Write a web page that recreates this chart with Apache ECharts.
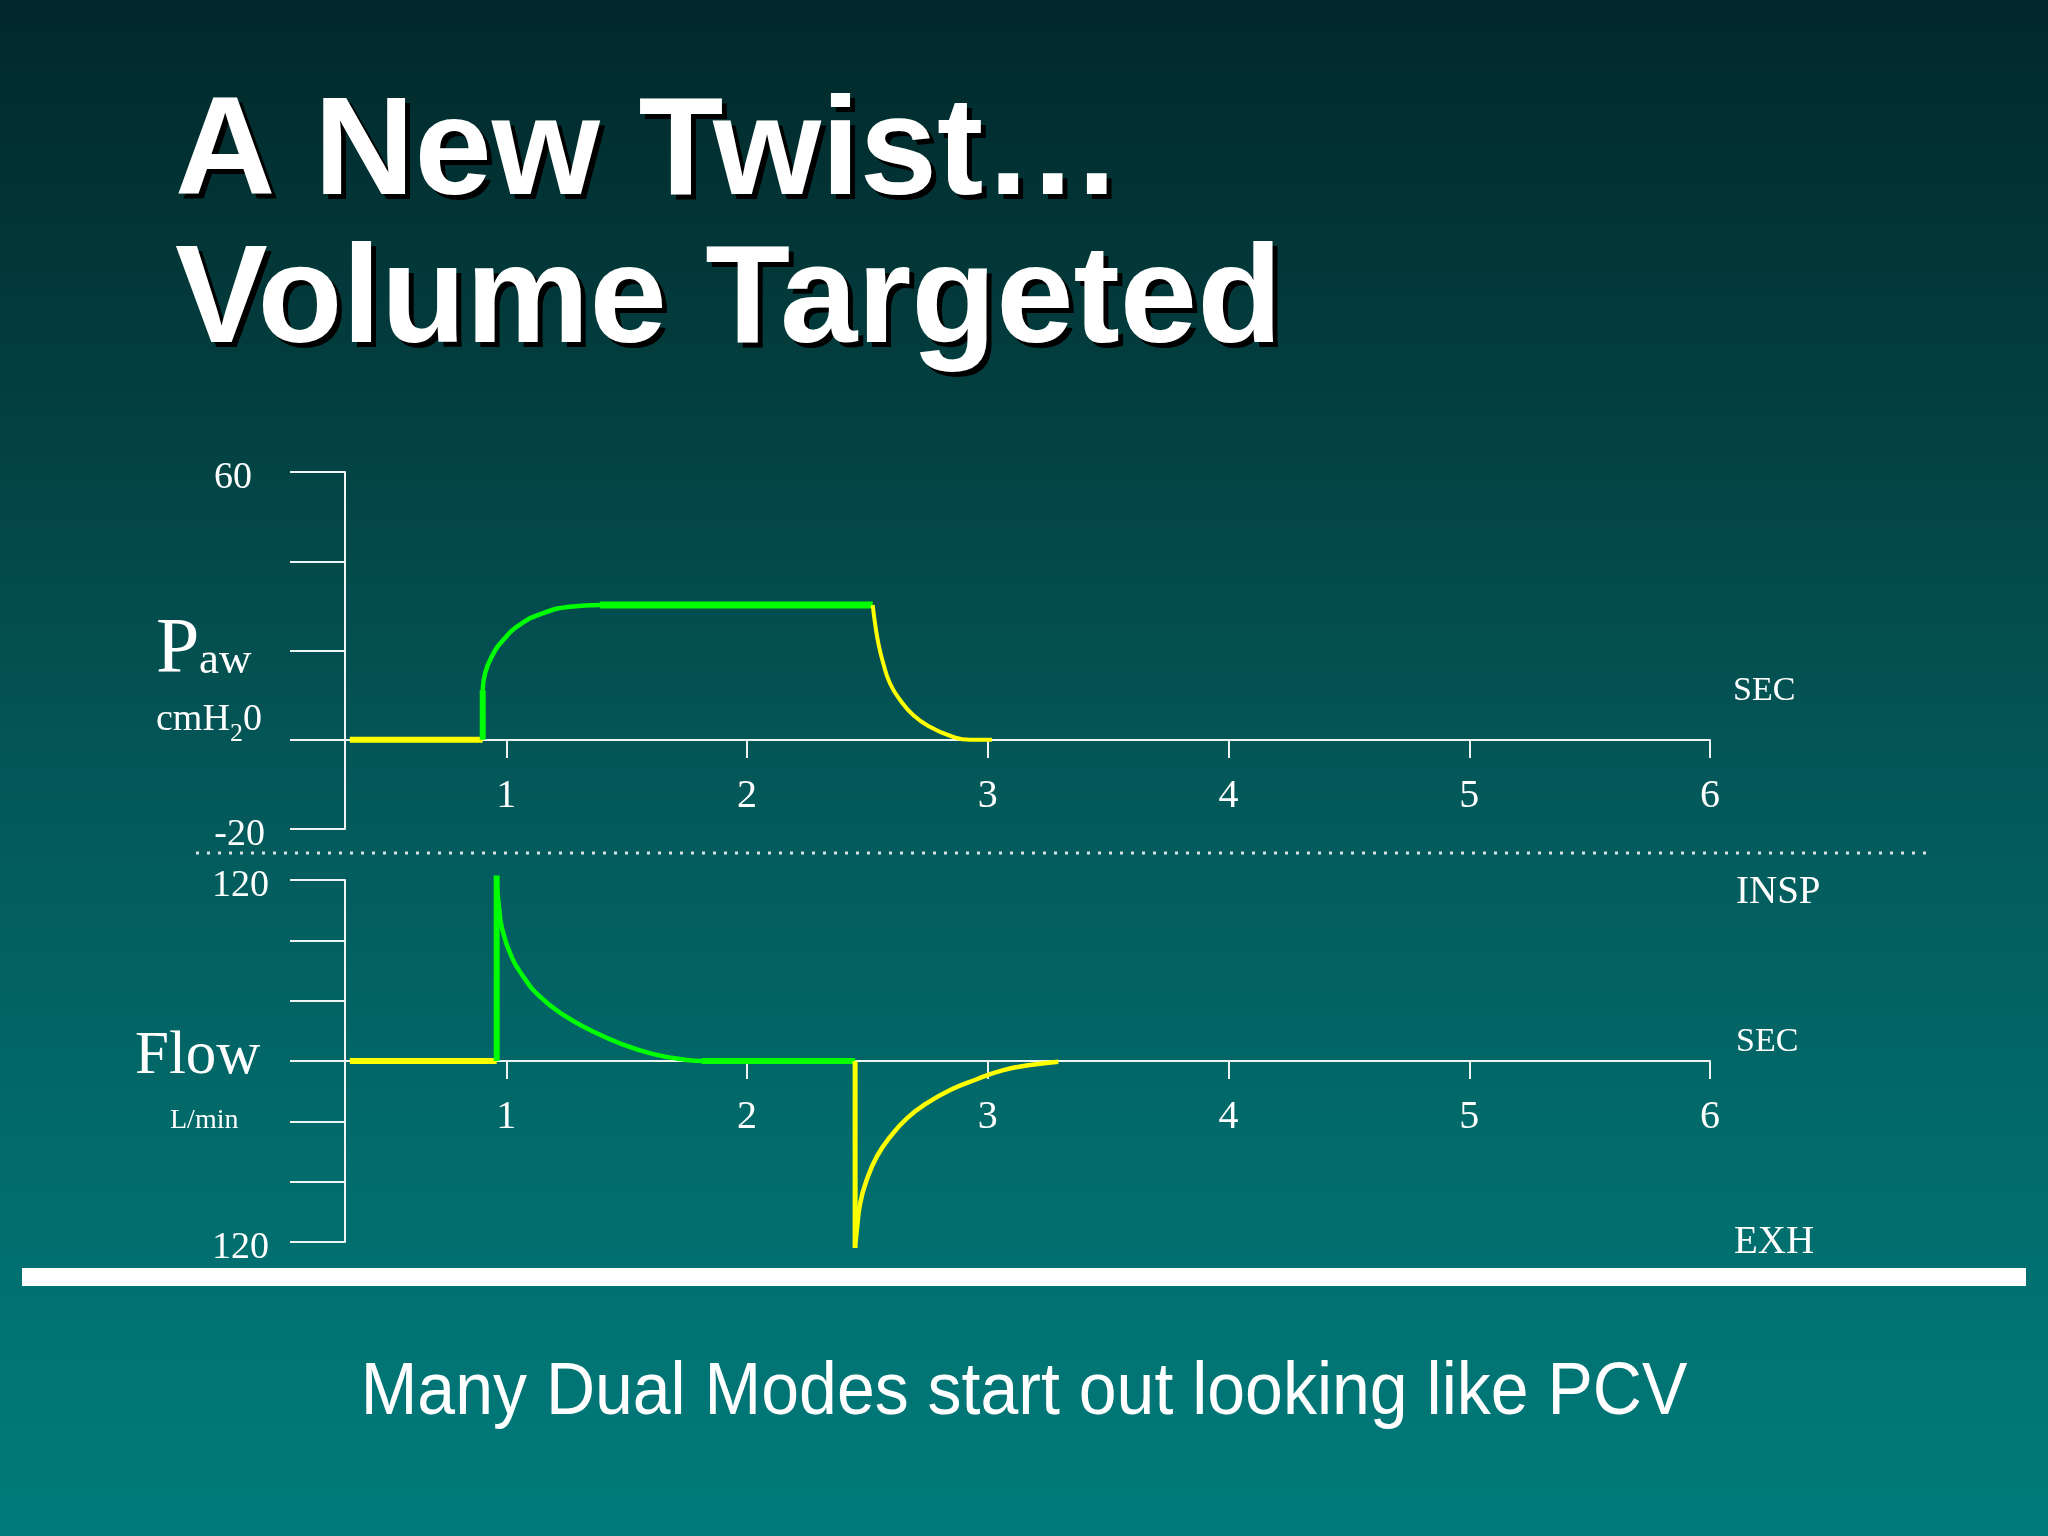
<!DOCTYPE html>
<html>
<head>
<meta charset="utf-8">
<script src="https://cdn.jsdelivr.net/npm/echarts@6/dist/echarts.min.js"></script>
<style>
html,body{margin:0;padding:0;background:#013a3b;}
#chart{width:2048px;height:1536px;}
</style>
</head>
<body>
<div id="chart"></div>
<script>
// ---- tick labels / categories ----
const timeTicks = [1, 2, 3, 4, 5, 6];
const pawLabelValues = [60, -20];
const flowLabelValues = [120, -120];

// ---- Paw (cmH2O) vs time (s) ----
const pawBaseT = [0.35, 0.902];
const pawBaseV = [0, 0];
const pawStepT = [0.902, 0.902];
const pawStepV = [0, 11.1];
const pawRiseT = [0.902, 0.912, 0.939, 0.988, 1.057, 1.154, 1.265, 1.389];
const pawRiseV = [11.1, 14.9, 18.6, 22.4, 25.8, 28.4, 29.8, 30.2];
const pawHoldT = [1.389, 2.522];
const pawHoldV = [30.2, 30.2];
const pawFallT = [2.522, 2.532, 2.546, 2.566, 2.594, 2.636, 2.691, 2.760, 2.843, 2.926, 3.017];
const pawFallV = [30.2, 26.0, 21.5, 17.1, 12.6, 8.9, 5.5, 2.9, 0.9, 0, 0];

// ---- Flow (L/min) vs time (s) ----
const flowBaseT = [0.35, 0.960];
const flowBaseV = [0, 0];
const flowSpikeT = [0.960, 0.960];
const flowSpikeV = [0, 123];
const flowDecayT = [0.960, 0.971, 0.981, 1.016, 1.071, 1.140, 1.237, 1.348, 1.472, 1.611, 1.750, 1.819];
const flowDecayV = [116.7, 100.1, 89.0, 71.4, 55.9, 42.6, 30.5, 20.6, 11.7, 4.6, 0.7, 0];
const flowHoldT = [1.812, 2.449];
const flowHoldV = [0, 0];
const flowDropT = [2.449, 2.449];
const flowDropV = [0, -124];
const flowRecoverT = [2.451, 2.456, 2.470, 2.497, 2.539, 2.595, 2.664, 2.747, 2.844, 2.954, 3.065, 3.176, 3.293];
const flowRecoverV = [-120, -112, -94.3, -78.9, -63.4, -50.2, -38.0, -28.0, -19.2, -12.1, -6.0, -2.7, -0.5];

const zip = (t, v) => t.map((x, i) => [x, v[i]]);

const GREEN = '#00ff00';
const YELLOW = '#ffff00';
const AXIS = '#eef3f3';
const SERIF = '"Liberation Serif", "Times New Roman", serif';
const SANS = '"Liberation Sans", Arial, sans-serif';

function seg(name, t, v, color, width, gi, smooth) {
  return {
    name: name, type: 'line', xAxisIndex: gi, yAxisIndex: gi,
    data: zip(t, v), symbol: 'none', clip: false, silent: true,
    smooth: smooth ? 0.5 : false,
    lineStyle: { color: color, width: width, cap: 'butt', join: 'round' },
    z: 5
  };
}

// x axis sits on the zero line: moved up from the grid bottom by an offset
function xAxisCfg(gi, offset) {
  return {
    type: 'value', gridIndex: gi, min: 0.33, max: 6, position: 'bottom', offset: offset,
    axisLine: { show: true, onZero: false, lineStyle: { color: AXIS, width: 2 } },
    axisTick: { show: true, customValues: timeTicks, length: 18, inside: false, lineStyle: { color: AXIS, width: 2 } },
    axisLabel: { show: true, customValues: timeTicks, margin: 36, color: '#ffffff', fontFamily: SERIF, fontSize: 40 },
    splitLine: { show: false }
  };
}

const labelRich = {
  n: { fontFamily: SERIF, fontSize: 38, color: '#ffffff', lineHeight: 12 },
  p: { fontFamily: SERIF, fontSize: 38, color: '#ffffff', lineHeight: 12, padding: [0, 13, 0, 0] }
};

function yAxisCfg(gi, min, max, interval, labels, margin, fmt) {
  return {
    type: 'value', gridIndex: gi, min: min, max: max, interval: interval,
    axisLine: { show: true, onZero: false, lineStyle: { color: AXIS, width: 2 } },
    axisTick: { show: true, length: 55, inside: false, lineStyle: { color: AXIS, width: 2 } },
    axisLabel: { show: true, customValues: labels, margin: margin, color: '#ffffff', fontFamily: SERIF, fontSize: 38,
      lineHeight: 12, formatter: fmt, rich: labelRich },
    splitLine: { show: false }
  };
}

function txt(text, x, y, size, opts) {
  opts = opts || {};
  return {
    type: 'text', x: x, y: y, z: opts.z || 10, silent: true,
    style: {
      text: text, fill: opts.fill || '#ffffff',
      font: (opts.weight || 'normal') + ' ' + size + 'px ' + (opts.family || SERIF),
      textAlign: opts.align || 'left', textVerticalAlign: 'middle', verticalAlign: 'middle'
    }
  };
}

// title with hard black drop shadow (drawn as a black copy underneath)
function shadowTitle(text, x, y, size) {
  return [
    txt(text, x + 5, y + 5, size, { weight: 'bold', family: SANS, fill: '#000000', z: 9 }),
    txt(text, x, y, size, { weight: 'bold', family: SANS, z: 10 })
  ];
}

const chart = echarts.init(document.getElementById('chart'), null, { renderer: 'canvas', width: 2048, height: 1536 });

chart.setOption({
  animation: false,
  backgroundColor: new echarts.graphic.LinearGradient(0, 0, 0, 1, [
    { offset: 0, color: '#01282a' },
    { offset: 0.25, color: '#033e3f' },
    { offset: 0.5, color: '#045758' },
    { offset: 0.75, color: '#026b6b' },
    { offset: 1, color: '#007b7b' }
  ]),
  grid: [
    { left: 345, top: 472, width: 1365, height: 357, containLabel: false },
    { left: 345, top: 880, width: 1365, height: 362, containLabel: false }
  ],
  xAxis: [xAxisCfg(0, -89), xAxisCfg(1, -181)],
  yAxis: [
    yAxisCfg(0, -20, 60, 20, pawLabelValues, 80, v => '\n' + (v === 60 ? '{p|' + v + '}' : '{n|' + v + '}')),
    yAxisCfg(1, -120, 120, 40, flowLabelValues, 76, v => '\n{n|' + Math.abs(v) + '}')
  ],
  series: [
    seg('Paw baseline', pawBaseT, pawBaseV, YELLOW, 6, 0, false),
    seg('Paw step', pawStepT, pawStepV, GREEN, 6, 0, false),
    seg('Paw rise', pawRiseT, pawRiseV, GREEN, 4.5, 0, true),
    seg('Paw plateau', pawHoldT, pawHoldV, GREEN, 7, 0, false),
    seg('Paw fall', pawFallT, pawFallV, YELLOW, 4, 0, true),
    seg('Flow baseline', flowBaseT, flowBaseV, YELLOW, 6, 1, false),
    seg('Flow spike', flowSpikeT, flowSpikeV, GREEN, 6, 1, false),
    seg('Flow decay', flowDecayT, flowDecayV, GREEN, 4.5, 1, true),
    seg('Flow hold', flowHoldT, flowHoldV, GREEN, 6, 1, false),
    seg('Flow drop', flowDropT, flowDropV, YELLOW, 5, 1, false),
    seg('Flow recover', flowRecoverT, flowRecoverV, YELLOW, 4.5, 1, true)
  ],
  graphic: [].concat(
    shadowTitle('A New Twist\u2026', 175, 156, 139),
    shadowTitle('Volume Targeted', 175, 304, 139),
    [
      txt('P', 156, 651, 78),
      txt('aw', 199, 661, 45),
      txt('cmH', 156, 720, 38),
      txt('2', 230, 734, 26),
      txt('0', 243, 720, 38),
      txt('Flow', 135, 1057, 61),
      txt('L/min', 170, 1121, 28),
      txt('SEC', 1733, 691, 34),
      txt('INSP', 1736, 893, 39),
      txt('SEC', 1736, 1042, 34),
      txt('EXH', 1734, 1243, 39),
      {
        type: 'line', z: 10, silent: true,
        shape: { x1: 196, y1: 853, x2: 1930, y2: 853 },
        style: { stroke: '#d8e4e4', lineWidth: 3, lineDash: [3, 8] }
      },
      {
        type: 'rect', z: 10, silent: true,
        shape: { x: 22, y: 1268, width: 2004, height: 18 },
        style: { fill: '#ffffff' }
      },
      {
        type: 'text', z: 10, silent: true, x: 1024, y: 1393, scaleY: 1.1,
        style: { text: 'Many Dual Modes start out looking like PCV', fill: '#ffffff',
          font: 'normal 68px ' + SANS, textAlign: 'center', textVerticalAlign: 'middle', verticalAlign: 'middle' }
      }
    ]
  )
});
</script>
</body>
</html>
